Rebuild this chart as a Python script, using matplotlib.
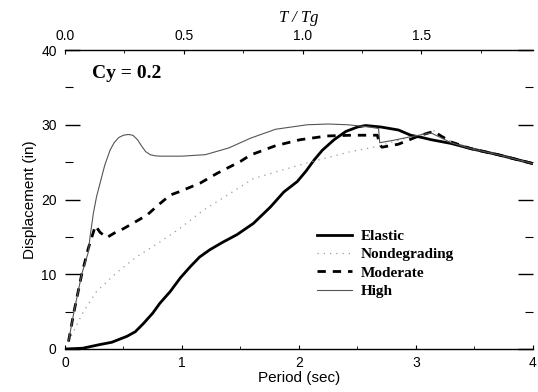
import numpy as np
import matplotlib
matplotlib.use("Agg")
import matplotlib.pyplot as plt
from matplotlib.ticker import MultipleLocator, FixedLocator, FormatStrFormatter

# Periode caracteristique du sol (sec)
Tg = 2.03

# Courbes : periode (sec) / deplacement (in)
t_elastic = [0.0, 0.15, 0.3, 0.4, 0.53, 0.6, 0.67, 0.75, 0.81, 0.9, 0.985, 1.07, 1.15,
             1.24, 1.35, 1.47, 1.61, 1.756, 1.87, 1.985, 2.06, 2.13, 2.2, 2.3, 2.4, 2.5,
             2.57, 2.7, 2.85, 2.955, 3.05, 3.13, 3.3, 3.47, 3.7, 4.0]
d_elastic = [0.0, 0.1, 0.6, 0.9, 1.7, 2.3, 3.4, 4.8, 6.1, 7.7, 9.5, 11.0, 12.3,
             13.3, 14.3, 15.3, 16.8, 19.0, 21.0, 22.4, 23.8, 25.3, 26.6, 28.0, 29.1, 29.7,
             29.9, 29.7, 29.3, 28.6, 28.3, 28.0, 27.5, 26.8, 26.0, 24.8]

t_nondeg = [0.03, 0.157, 0.27, 0.44, 0.61, 0.8, 0.97, 1.185, 1.41, 1.61, 1.87, 2.07,
            2.44, 2.67, 2.955, 3.15, 3.3, 3.47, 3.7, 4.0]
d_nondeg = [1.0, 5.0, 7.7, 10.2, 12.3, 14.2, 16.0, 18.6, 20.8, 22.8, 24.0, 24.9,
            26.4, 27.1, 28.4, 29.2, 27.8, 26.9, 26.0, 24.8]

t_moderate = [0.03, 0.077, 0.143, 0.2, 0.26, 0.3, 0.357, 0.42, 0.5, 0.6, 0.7, 0.8, 0.9,
              0.97, 1.156, 1.3, 1.5, 1.585, 1.8, 2.01, 2.24, 2.45, 2.67, 2.69, 2.71,
              2.85, 3.04, 3.15, 3.3, 3.47, 3.7, 4.0]
d_moderate = [1.0, 5.0, 10.0, 13.5, 16.5, 15.6, 14.9, 15.5, 16.1, 17.0, 17.9, 19.3, 20.6,
              21.0, 22.2, 23.5, 25.1, 25.95, 27.2, 28.0, 28.5, 28.6, 28.6, 27.3, 27.0,
              27.4, 28.6, 29.1, 27.7, 26.8, 26.0, 24.8]

t_high = [0.03, 0.077, 0.143, 0.2, 0.214, 0.243, 0.27, 0.3, 0.34, 0.385, 0.42, 0.46,
          0.5, 0.54, 0.58, 0.62, 0.657, 0.69, 0.728, 0.77, 0.81, 1.0, 1.2, 1.4, 1.585,
          1.8, 2.07, 2.25, 2.42, 2.6, 2.68, 2.69, 2.8, 2.955, 3.13, 3.3, 3.47, 3.7, 4.0]
d_high = [1.0, 5.0, 10.0, 13.0, 15.0, 18.2, 20.4, 22.2, 24.6, 26.6, 27.6, 28.3,
          28.6, 28.7, 28.6, 28.0, 27.1, 26.4, 26.0, 25.85, 25.8, 25.8, 26.0, 26.9, 28.2,
          29.4, 30.0, 30.1, 30.0, 29.7, 29.5, 27.6, 27.9, 28.4, 28.9, 27.6, 26.8, 26.0, 24.8]

top_ticks = [0.0, 0.5, 1.0, 1.5]

plt.rcParams['font.family'] = ['Liberation Sans', 'DejaVu Sans']

fig = plt.figure(figsize=(5.38, 3.92), dpi=100)
ax = fig.add_axes([0.1208, 0.1097, 0.8699, 0.7627])

ax.plot(t_elastic, d_elastic, color='black', lw=2.0, label='Elastic')
ax.plot(t_nondeg, d_nondeg, color='#999999', lw=0.9, ls=(0, (1, 4)), label='Nondegrading')
ax.plot(t_moderate, d_moderate, color='black', lw=2.0, ls=(0, (3, 2.5)), label='Moderate')
ax.plot(t_high, d_high, color='#555555', lw=0.8, label='High')

ax.set_xlim(0, 4)
ax.set_ylim(0, 40)
ax.spines['left'].set_visible(False)
ax.spines['right'].set_visible(False)
ax.spines['top'].set_linewidth(1.0)
ax.spines['bottom'].set_linewidth(1.0)

ax.xaxis.set_major_locator(MultipleLocator(1))
ax.xaxis.set_minor_locator(MultipleLocator(0.5))
ax.yaxis.set_major_locator(MultipleLocator(10))
ax.yaxis.set_minor_locator(MultipleLocator(5))
ax.tick_params(axis='x', which='major', direction='in', length=3, width=0.8, pad=5,
               labelsize=10, top=False)
ax.tick_params(axis='x', which='minor', direction='in', length=2, width=0.6, top=False)
ax.tick_params(axis='y', which='major', direction='in', length=11, width=1.0, pad=6,
               labelsize=10, right=True)
ax.tick_params(axis='y', which='minor', direction='in', length=6, width=0.8, right=True)

ax.set_xlabel('Period (sec)', fontsize=11, labelpad=1)
ax.set_ylabel('Displacement (in)', fontsize=11, labelpad=3)

# Axe superieur T / Tg
top = ax.secondary_xaxis('top', functions=(lambda t: t / Tg, lambda r: r * Tg))
top.xaxis.set_major_locator(FixedLocator(top_ticks))
top.xaxis.set_minor_locator(FixedLocator([0.25, 0.75, 1.25, 1.75]))
top.xaxis.set_major_formatter(FormatStrFormatter('%.1f'))
top.tick_params(which='major', direction='in', length=3, width=0.8, pad=5, labelsize=10)
top.tick_params(which='minor', direction='in', length=2, width=0.6)
top.spines['top'].set_visible(False)
top.set_xlabel('T / Tg', fontsize=12, fontfamily='Liberation Serif', fontstyle='italic',
               labelpad=5)

ax.text(0.23, 36.8, 'Cy = 0.2', fontsize=14, fontweight='bold',
        fontfamily='Liberation Serif', va='center', ha='left')

ax.legend(loc='upper left', bbox_to_anchor=(0.538, 0.40), frameon=False,
          prop={'family': 'Liberation Serif', 'weight': 'bold', 'size': 11},
          handlelength=2.3, handletextpad=0.6, labelspacing=0.3, borderpad=0,
          borderaxespad=0)

fig.savefig('out.png', dpi=100)
